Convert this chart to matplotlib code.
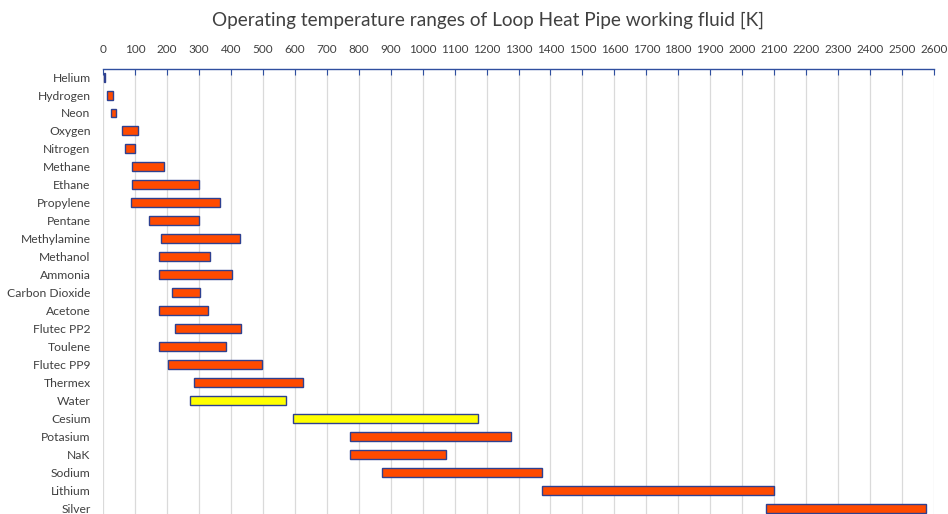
import matplotlib
matplotlib.use("Agg")
import matplotlib.pyplot as plt
import numpy as np

plt.rcParams["font.family"] = ["Lato", "DejaVu Sans"]

# working fluids, top to bottom, with min / max operating temperature [K]
fluids = ["Helium", "Hydrogen", "Neon", "Oxygen", "Nitrogen", "Methane", "Ethane",
          "Propylene", "Pentane", "Methylamine", "Methanol", "Ammonia",
          "Carbon Dioxide", "Acetone", "Flutec PP2", "Toulene", "Flutec PP9",
          "Thermex", "Water", "Cesium", "Potasium", "NaK", "Sodium", "Lithium",
          "Silver"]
t_min = [2, 14, 25, 60, 70, 90, 90, 87, 143, 180, 175, 175, 217, 175, 225, 175,
         203, 285, 273, 593, 773, 773, 873, 1375, 2075]
t_max = [5, 31, 40, 110, 100, 190, 300, 365, 300, 430, 335, 405, 302, 330, 433,
         385, 498, 625, 573, 1172, 1275, 1073, 1375, 2100, 2575]
highlight = ["Water", "Cesium"]

orange = "#FF4A00"
yellow = "#FFFF00"
edge = "#2E4090"
axis_blue = "#2F4F9F"

fig = plt.figure(figsize=(9.48, 5.14), dpi=100)
ax = fig.add_axes([103 / 948, 0.0, (934 - 103) / 948, 1 - 69 / 514])

y = np.arange(len(fluids))
widths = np.array(t_max) - np.array(t_min)
colors = [yellow if f in highlight else orange for f in fluids]
ax.barh(y, widths, left=t_min, height=0.5, color=colors, edgecolor=edge,
        linewidth=1.0, zorder=3)

ax.set_xlim(0, 2600)
ax.set_ylim(24.33, -0.45)
ax.set_xticks(np.arange(0, 2601, 100))
ax.xaxis.tick_top()
ax.tick_params(axis="x", direction="in", length=4, color=axis_blue, labelsize=8.5,
               labelcolor="#404040", pad=10)
ax.set_yticks(y)
ax.set_yticklabels(fluids, fontsize=8.7, color="#404040")
ax.tick_params(axis="y", length=0, pad=9)
ax.grid(axis="x", color="#DADADA", linewidth=0.9, zorder=0)

for side in ["left", "right", "bottom"]:
    ax.spines[side].set_visible(False)
ax.spines["top"].set_color(axis_blue)
ax.spines["top"].set_linewidth(1.0)

fig.text(488 / 948, 1 - 20 / 514, "Operating temperature ranges of Loop Heat Pipe working fluid [K]",
         ha="center", va="center", fontsize=13.7, color="#404040")

fig.savefig("out.png", dpi=100)
